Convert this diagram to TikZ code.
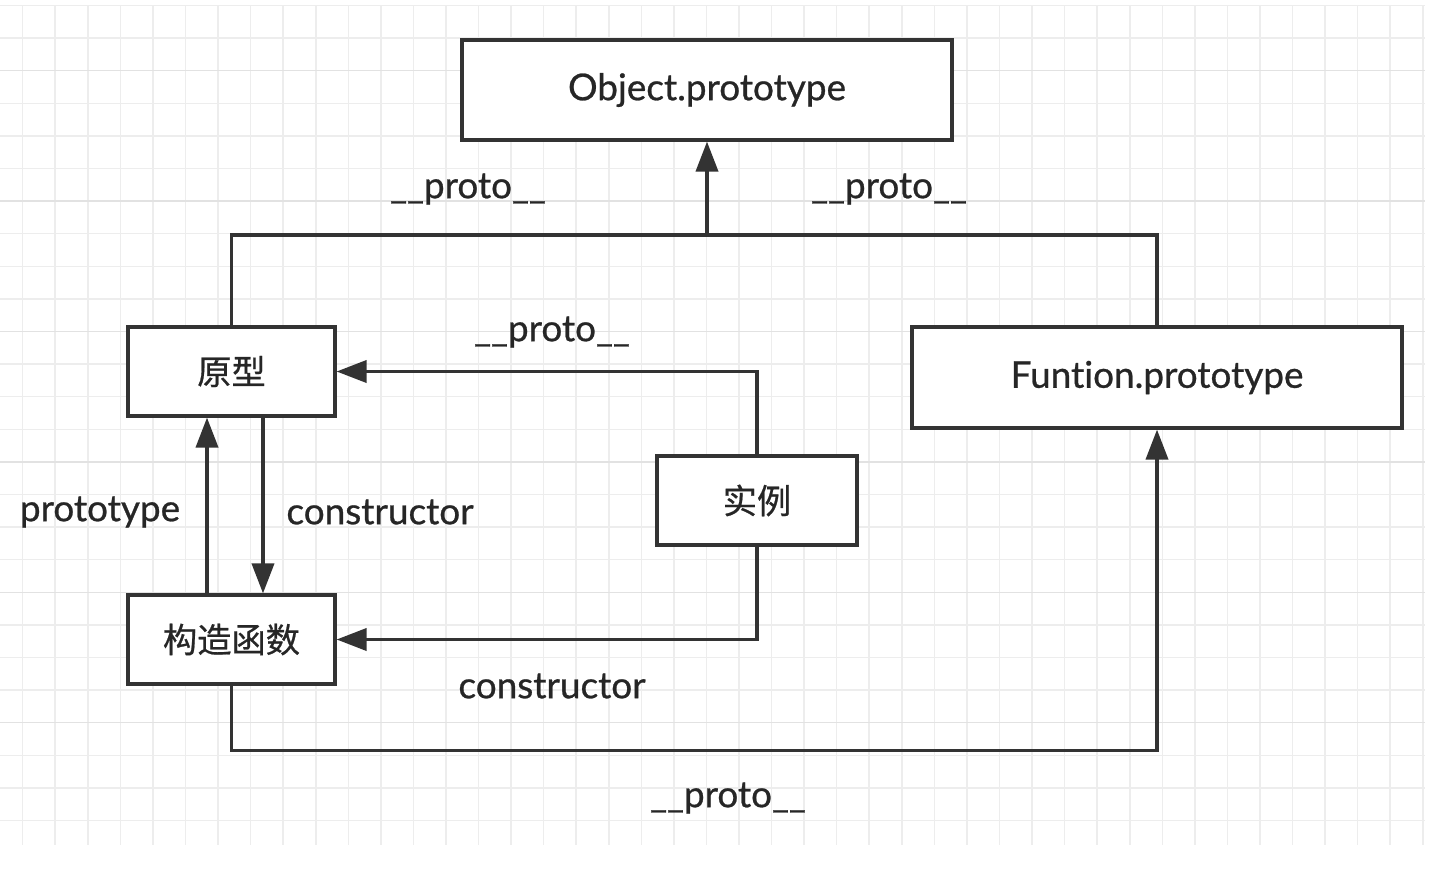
\documentclass[tikz,border=0pt]{standalone}
\usepackage{fontspec}
\setmainfont{Lato}[Ligatures=NoCommon, BoldFont=Lato, BoldFeatures={FakeBold=0.7}]
\newfontfamily\cjkfont{Noto Sans CJK SC}[BoldFont=Noto Sans CJK SC, BoldFeatures={FakeBold=0.6}]
\usetikzlibrary{arrows.meta}

\definecolor{inkgray}{HTML}{333333}
\definecolor{gridminor}{HTML}{EDEDED}
\definecolor{gridmajor}{HTML}{E2E2E2}

\tikzset{
	box/.style={draw=inkgray, line width=1.8pt, fill=white, text=black!85, font=\bfseries\fontsize{21}{25}\selectfont, inner sep=0pt},
	cnbox/.style={box, font=\cjkfont\bfseries\fontsize{19.5}{24}\selectfont},
	link/.style={draw=inkgray, line width=2.1pt, line join=miter},
	arrowlink/.style={link, -{Triangle[length=0.6cm, width=0.44cm]}},
	tag/.style={text=black!85, font=\bfseries\fontsize{21}{25}\selectfont, inner sep=1pt}
}

\begin{document}
\begin{tikzpicture}[
						x=0.02cm, y=-0.02cm,
						line cap=butt
						]
						
						\useasboundingbox (0,0) rectangle (1434,872);
						\fill[white] (0,0) rectangle (1434,872);
						
						% Grid paper
						\foreach \i in {0,...,43}{
							\pgfmathsetmacro{\gx}{22.7+32.56*\i}
							\ifnum\numexpr\i-4*(\i/4)\relax=3
								\draw[gridmajor, line width=0.9pt] (\gx,5) -- (\gx,845);
							\else
								\draw[gridminor, line width=0.9pt] (\gx,5) -- (\gx,845);
							\fi
						}
						\foreach \j in {0,...,25}{
							\pgfmathsetmacro{\gy}{5.5+32.6*\j}
							\draw[gridminor, line width=0.9pt] (0,\gy) -- (1425,\gy);
						}
						\foreach \j in {2,6,...,22}{
							\pgfmathsetmacro{\gy}{5.5+32.6*\j}
							\draw[gridmajor, line width=0.9pt] (0,\gy) -- (1425,\gy);
						}
						
						% Boxes
						\node[box, minimum width=9.8cm, minimum height=2cm] (objproto) at (707,90) {Object.prototype};
						\node[box, minimum width=9.8cm, minimum height=2.02cm] (funproto) at (1157,377.5) {Funtion.prototype};
						\node[cnbox, minimum width=4.14cm, minimum height=1.78cm] (yuanxing) at (231.5,371.5) {原型};
						\node[cnbox, minimum width=4.14cm, minimum height=1.78cm] (gouzao) at (231.5,639.5) {构造函数};
						\node[cnbox, minimum width=4cm, minimum height=1.78cm] (shili) at (757,500.5) {实例};
						
						% Upper __proto__ bus
						\coordinate (bus) at (707,235);
						\draw[link] (yuanxing.north) -- (yuanxing.north |- bus) -- (funproto.north |- bus) -- (funproto.north);
						\draw[arrowlink] (objproto.south |- bus) -- (objproto.south);
						
						% Instance links
						\draw[arrowlink] (shili.north) |- (yuanxing.east);
						\draw[arrowlink] (shili.south) |- (gouzao.east);
						
						% prototype / constructor pair
						\draw[arrowlink] ([xshift=-0.49cm]gouzao.north) -- ([xshift=-0.49cm]yuanxing.south);
						\draw[arrowlink] ([xshift=0.63cm]yuanxing.south) -- ([xshift=0.63cm]gouzao.north);
						
						% Lower __proto__ link
						\draw[arrowlink] (gouzao.south) -- ++(0,65) -| (funproto.south);
						
						% Labels
						\node[tag] (protoa) at (468,189) {\_\_proto\_\_};
						\node[tag] (protob) at (889,189) {\_\_proto\_\_};
						\node[tag] (protoc) at (552,332) {\_\_proto\_\_};
						\node[tag] (protod) at (728,798) {\_\_proto\_\_};
						\node[tag] (prototag) at (100,512) {prototype};
						\node[tag] (ctora) at (380,512) {constructor};
						\node[tag] (ctorb) at (552,686) {constructor};
						
					\end{tikzpicture}
\end{document}
